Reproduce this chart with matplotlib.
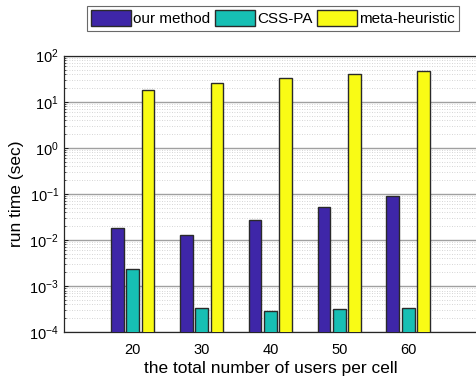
import matplotlib
matplotlib.use("Agg")
import matplotlib.pyplot as plt
import numpy as np
from matplotlib.ticker import LogLocator, NullFormatter

plt.rcParams['font.family'] = ['Liberation Sans', 'DejaVu Sans']
plt.rcParams['mathtext.fontset'] = 'custom'
plt.rcParams['mathtext.rm'] = 'Liberation Sans'
plt.rcParams['mathtext.it'] = 'Liberation Sans:italic'
plt.rcParams['mathtext.bf'] = 'Liberation Sans:bold'

users = [20, 30, 40, 50, 60]
series_names = ["our method", "CSS-PA", "meta-heuristic"]
our_method = [0.0185, 0.013, 0.027, 0.052, 0.09]
css_pa = [0.0024, 0.00033, 0.00029, 0.00032, 0.00034]
meta_heuristic = [18.2, 26.0, 33.5, 40.0, 47.5]

colors = ["#3E26A8", "#17BFB4", "#F9FB15"]

fig = plt.figure(figsize=(4.77, 3.84), dpi=100)
ax = fig.add_axes([0.134, 0.135, 0.866, 0.72])

x = np.array(users, dtype=float)
offset = 2.23
width = 1.85
for i, vals in enumerate([our_method, css_pa, meta_heuristic]):
    ax.bar(x + (i - 1) * offset, vals, width=width, color=colors[i],
           edgecolor="#2a2a2a", linewidth=1.0, label=series_names[i],
           zorder=3)

ax.set_yscale('log')
ax.set_ylim(1e-4, 1e2)
ax.set_xlim(10, 70)
ax.set_xticks(users)
ax.set_xticklabels([str(u) for u in users])
ax.yaxis.set_major_locator(LogLocator(base=10, numticks=10))
ax.yaxis.set_minor_locator(LogLocator(base=10, subs=np.arange(2, 10), numticks=20))
ax.yaxis.set_minor_formatter(NullFormatter())

ax.grid(axis='y', which='major', color='#a0a0a0', linewidth=1.0, linestyle='-', zorder=0)
ax.grid(axis='y', which='minor', color='#c8c8c8', linewidth=0.6, linestyle=(0, (1, 2)), zorder=0)
ax.set_axisbelow(True)

ax.tick_params(axis='both', which='major', direction='in', length=3, labelsize=10.5, width=0.6)
ax.tick_params(axis='y', which='minor', direction='in', length=1.5, width=0.5)
ax.tick_params(axis='x', which='major', pad=8)

for side in ['left', 'top', 'bottom']:
    ax.spines[side].set_color('#262626')
    ax.spines[side].set_linewidth(0.9)
ax.spines['right'].set_visible(False)

ax.set_xlabel("the total number of users per cell", fontsize=12.5, labelpad=2.5)
ax.set_ylabel("run time (sec)", fontsize=12.5, labelpad=4)

leg = fig.legend(loc='upper center', bbox_to_anchor=(0.572, 0.985), ncol=3,
                 fontsize=11, frameon=True, fancybox=False,
                 handlelength=2.6, handleheight=1.15, handletextpad=0.15,
                 columnspacing=0.3, borderpad=0.3, borderaxespad=0)
leg.get_frame().set_edgecolor('#444444')
leg.get_frame().set_linewidth(0.8)

fig.savefig("out.png", dpi=100)
